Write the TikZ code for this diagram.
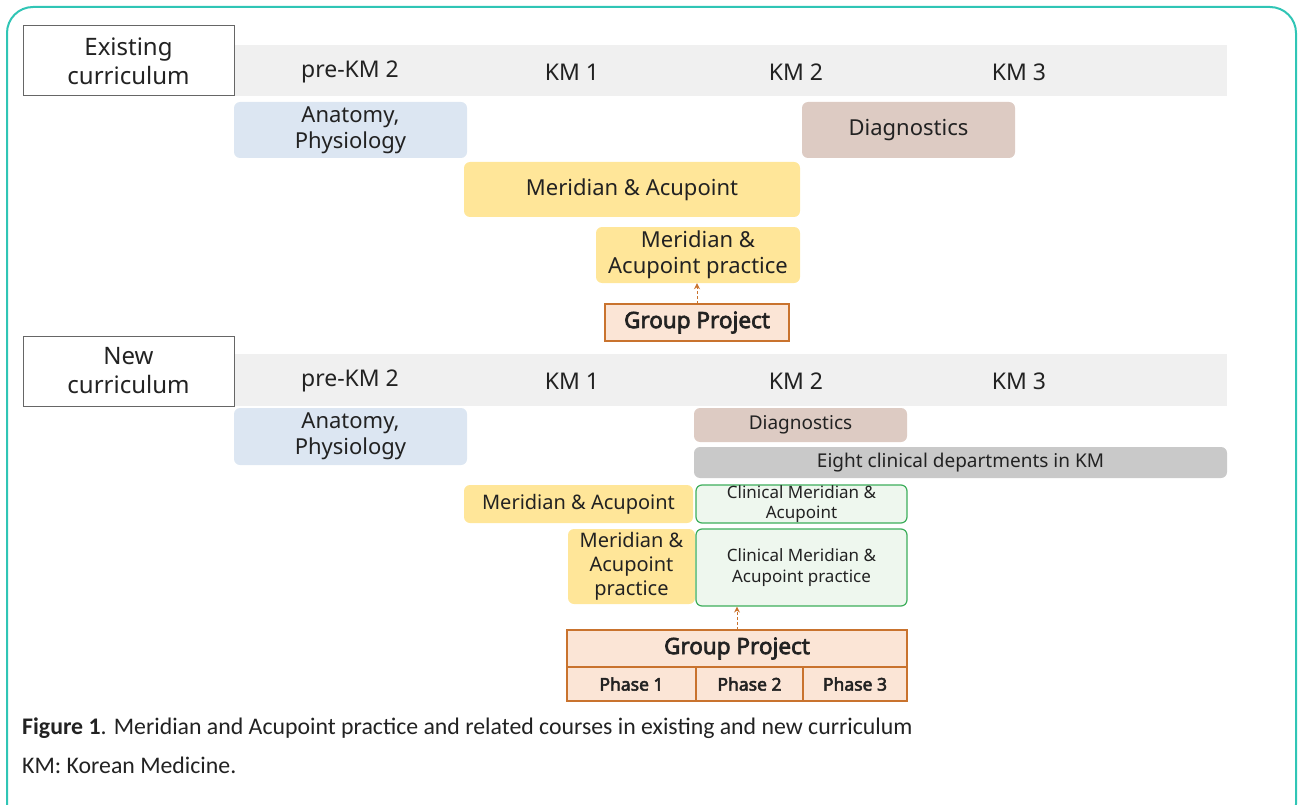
\documentclass[tikz,border=0pt]{standalone}
\usepackage{fontspec}
\setmainfont{Noto Sans}[BoldFont={Noto Sans},BoldFeatures={FakeBold=3}]
\newfontfamily\capfont{Carlito}
\usetikzlibrary{arrows.meta}
\definecolor{bandc}{HTML}{F0F0F0}
\definecolor{bluec}{HTML}{DCE6F2}
\definecolor{brownc}{HTML}{DDCBC3}
\definecolor{yellowc}{HTML}{FFE699}
\definecolor{peachc}{HTML}{FBE5D6}
\definecolor{orangec}{HTML}{C9732E}
\definecolor{greenf}{HTML}{EEF7EE}
\definecolor{greenb}{HTML}{3DAE5B}
\definecolor{grayc}{HTML}{C9C9C9}
\definecolor{tealc}{HTML}{30C5B5}
\definecolor{txt}{HTML}{222222}
\newcommand{\bx}[7]{\node[#2, minimum width={#5-#3}, minimum height={#6-#4}] (#1) at ({(#3+#5)/2},{(#4+#6)/2}) {#7};}
\tikzset{
  base/.style={inner sep=0pt, align=center, text=txt, font=\fontsize{22}{26}\selectfont},
  labelbox/.style={base, draw=gray!80!black, line width=1pt, fill=white, font=\fontsize{24}{29}\selectfont},
  band/.style={base, fill=bandc},
  yr/.style={base, font=\fontsize{23}{27}\selectfont},
  course/.style={base, rounded corners=6pt},
  bluebox/.style={course, fill=bluec},
  brownbox/.style={course, fill=brownc},
  yellowbox/.style={course, fill=yellowc},
  graybox/.style={course, fill=grayc},
  greenbox/.style={course, fill=greenf, draw=greenb, line width=1.2pt, font=\fontsize{17}{21}\selectfont},
  gpbox/.style={base, fill=peachc, draw=orangec, line width=1.3pt, font=\bfseries\fontsize{22.5}{26}\selectfont},
  phasebox/.style={base, fill=peachc, draw=orangec, line width=1.3pt, font=\bfseries\fontsize{17.5}{21}\selectfont},
  link/.style={draw=orangec, line width=1pt, dash pattern=on 3pt off 2pt, -{Stealth[length=6pt,width=6pt]}},
  captext/.style={inner sep=0pt, anchor=west, text=txt, font=\capfont\fontsize{23.8}{28}\selectfont}
}
\begin{document}
\begin{tikzpicture}[x=1pt,y=-1pt]
\useasboundingbox (0,0) rectangle (1298,805);
\begin{scope}
\clip (0,0) rectangle (1298,805);
\draw[tealc, line width=2pt, rounded corners=26pt] (7,7) rectangle (1296,830);
\end{scope}
% ---------- existing ----------
\bx{band1}{band}{234}{45}{1227}{96}{}
\bx{ex}{labelbox}{23}{26}{234}{96}{Existing\\curriculum}
\node[yr] (y1a) at (350,72) {pre-KM 2};
\node[yr] (y1b) at (572,72) {KM 1};
\node[yr] (y1c) at (796,72) {KM 2};
\node[yr] (y1d) at (1019,72) {KM 3};
\bx{anat1}{bluebox}{234}{102}{467}{158}{Anatomy,\\Physiology}
\bx{diag1}{brownbox}{802}{102}{1015}{158}{Diagnostics}
\bx{ma1}{yellowbox}{464}{162}{800}{217}{Meridian \& Acupoint}
\bx{map1}{yellowbox}{596}{227}{800}{283}{Meridian \&\\Acupoint practice}
\bx{gp1}{gpbox}{605}{304}{789}{341}{Group Project}
\coordinate (g1s) at (697,304);
\draw[link] (g1s) -- (g1s |- map1.south);
% ---------- new ----------
\bx{band2}{band}{234}{354}{1227}{406}{}
\bx{nw}{labelbox}{23}{336}{234}{406}{New\\curriculum}
\node[yr] (y2a) at (350,381) {pre-KM 2};
\node[yr] (y2b) at (572,381) {KM 1};
\node[yr] (y2c) at (796,381) {KM 2};
\node[yr] (y2d) at (1019,381) {KM 3};
\bx{anat2}{bluebox}{234}{408}{467}{465}{Anatomy,\\Physiology}
\bx{diag2}{brownbox, font=\fontsize{19}{23}\selectfont}{694}{408}{907}{442}{Diagnostics}
\bx{eight}{graybox, font=\fontsize{19}{23}\selectfont}{694}{447}{1227}{478}{Eight clinical departments in KM}
\bx{ma2}{yellowbox, font=\fontsize{20}{24}\selectfont}{464}{485}{693}{523}{Meridian \& Acupoint}
\bx{cma}{greenbox, font=\fontsize{17}{20}\selectfont}{696}{485}{907}{523}{Clinical Meridian \&\\Acupoint}
\bx{map2}{yellowbox, font=\fontsize{20}{24}\selectfont}{568}{529}{695}{604}{Meridian \&\\Acupoint\\practice}
\bx{cmap}{greenbox}{696}{529}{907}{606}{Clinical Meridian \&\\Acupoint practice}
\bx{gp2}{gpbox}{567}{630}{907}{667}{Group Project}
\bx{ph1}{phasebox}{567}{667}{696}{701}{Phase 1}
\bx{ph2}{phasebox}{696}{667}{803}{701}{Phase 2}
\bx{ph3}{phasebox}{803}{667}{907}{701}{Phase 3}
\coordinate (g2s) at (737,630);
\draw[link] (g2s) -- (g2s |- cmap.south);
% ---------- caption ----------
\node[captext] (cap1) at (22,728) {{\bfseries Figure 1}. Meridian and Acupoint practice and related courses in existing and new curriculum};
\node[captext] (cap2) at (22,765) {KM: Korean Medicine.};
\end{tikzpicture}
\end{document}
